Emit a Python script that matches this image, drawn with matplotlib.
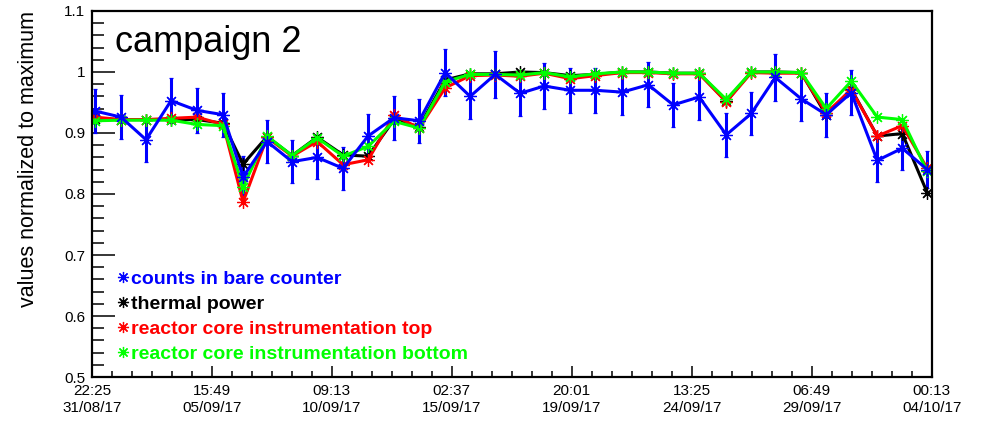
import numpy as np
import pandas as pd
import matplotlib
matplotlib.use("Agg")
import matplotlib.pyplot as plt
import matplotlib.dates as mdates
from matplotlib.lines import Line2D
from matplotlib.ticker import FixedLocator, MultipleLocator, FuncFormatter

plt.rcParams['font.family'] = ['Liberation Sans', 'DejaVu Sans']

# measurement times (one per day, campaign 2)
times = pd.to_datetime([
    "2017-09-01 01:15", "2017-09-02 01:50", "2017-09-03 01:30", "2017-09-04 01:10",
    "2017-09-05 01:45", "2017-09-06 02:20", "2017-09-06 21:15", "2017-09-07 19:55",
    "2017-09-08 19:35", "2017-09-09 19:15", "2017-09-10 19:50", "2017-09-11 19:25",
    "2017-09-12 20:00", "2017-09-13 19:45", "2017-09-14 20:20", "2017-09-15 19:55",
    "2017-09-16 19:35", "2017-09-17 19:15", "2017-09-18 17:55", "2017-09-19 18:30",
    "2017-09-20 18:05", "2017-09-21 19:45", "2017-09-22 20:20", "2017-09-23 19:55",
    "2017-09-24 20:25", "2017-09-25 22:05", "2017-09-26 21:45", "2017-09-27 20:25",
    "2017-09-28 20:55", "2017-09-29 20:35", "2017-09-30 20:15", "2017-10-01 20:50",
    "2017-10-02 20:30", "2017-10-03 20:05",
])

counts = [0.936, 0.926, 0.889, 0.953, 0.937, 0.930, 0.828, 0.886, 0.853, 0.860,
          0.842, 0.895, 0.925, 0.920, 0.999, 0.960, 0.996, 0.965, 0.977, 0.970,
          0.970, 0.967, 0.979, 0.946, 0.959, 0.897, 0.932, 0.991, 0.956, 0.930,
          0.966, 0.855, 0.875, 0.840]
counts_err = [0.036, 0.036, 0.036, 0.037, 0.037, 0.036, 0.035, 0.036, 0.035, 0.036,
              0.035, 0.036, 0.036, 0.036, 0.038, 0.037, 0.038, 0.037, 0.037, 0.037,
              0.037, 0.037, 0.037, 0.036, 0.037, 0.036, 0.036, 0.038, 0.037, 0.036,
              0.037, 0.035, 0.035, 0.030]
thermal = [0.923, 0.922, 0.922, 0.922, 0.922, 0.916, 0.849, 0.894, 0.863, 0.893,
           0.864, 0.862, 0.922, 0.910, 0.987, 0.997, 0.997, 1.000, 0.999, 0.994,
           0.996, 1.000, 1.000, 0.998, 0.998, 0.952, 1.000, 1.000, 0.999, 0.929,
           0.972, 0.895, 0.899, 0.802]
core_top = [0.926, 0.922, 0.922, 0.924, 0.926, 0.914, 0.787, 0.893, 0.862, 0.886,
            0.848, 0.856, 0.929, 0.908, 0.974, 0.994, 0.995, 0.993, 0.998, 0.989,
            0.994, 0.999, 0.999, 0.997, 0.997, 0.951, 0.999, 0.998, 0.998, 0.933,
            0.971, 0.895, 0.912, 0.842]
core_bottom = [0.920, 0.921, 0.921, 0.921, 0.914, 0.912, 0.812, 0.895, 0.863, 0.892,
               0.862, 0.878, 0.919, 0.908, 0.984, 0.996, 0.996, 0.995, 0.999, 0.992,
               0.997, 1.000, 1.000, 0.998, 0.998, 0.955, 1.000, 1.000, 0.999, 0.940,
               0.985, 0.926, 0.922, 0.837]

labels = ["counts in bare counter", "thermal power",
          "reactor core instrumentation top", "reactor core instrumentation bottom"]
colors = ["#0000ff", "#000000", "#ff0000", "#00ff00"]

t_start = pd.Timestamp("2017-08-31 22:25")
t_end = pd.Timestamp("2017-10-04 00:13")

star = (8, 2, 0)  # ROOT-like asterisk marker
lw = 2.2
ms = 9
mew = 0.9

fig = plt.figure(figsize=(9.82, 4.22), dpi=100)
ax = fig.add_axes([0.0937, 0.1066, 0.855, 0.8674])

x = mdates.date2num(times)
ax.errorbar(x, counts, yerr=counts_err, color=colors[0], lw=lw, marker=star,
            ms=ms, mew=mew, elinewidth=lw, capsize=1.2, capthick=3)
for vals, c in zip([thermal, core_top, core_bottom], colors[1:]):
    ax.plot(x, vals, color=c, lw=lw, marker=star, ms=ms, mew=mew)

ax.set_xlim(mdates.date2num(t_start), mdates.date2num(t_end))
ax.set_ylim(0.5, 1.1)

# time axis: 7 divisions with 6 sub-divisions each
major = mdates.date2num(pd.date_range(t_start, t_end, periods=8))
minor = np.linspace(major[0], major[-1], 43)
ax.xaxis.set_major_locator(FixedLocator(major))
ax.xaxis.set_minor_locator(FixedLocator(minor))
ax.xaxis.set_major_formatter(mdates.DateFormatter("%H:%M\n%d/%m/%y"))

ax.yaxis.set_major_locator(MultipleLocator(0.1))
ax.yaxis.set_minor_locator(MultipleLocator(0.02))
ax.yaxis.set_major_formatter(FuncFormatter(lambda v, p: f"{v:g}"))

ax.tick_params(axis="x", which="major", direction="in", length=8, width=1.1,
               labelsize=11, pad=5)
ax.tick_params(axis="x", which="minor", direction="in", length=4, width=1.1)
ax.tick_params(axis="y", which="major", direction="in", length=16.5, width=1.1,
               labelsize=11, pad=5)
ax.tick_params(axis="y", which="minor", direction="in", length=8.5, width=1.1)
for lab in ax.get_xticklabels():
    lab.set_linespacing(1.3)

for s in ax.spines.values():
    s.set_linewidth(1.6)

ax.set_ylabel("values normalized to maximum", fontsize=15.5, loc="top", labelpad=18)

ax.text(0.027, 0.962, "campaign 2", transform=ax.transAxes, fontsize=26,
        ha="left", va="top")

handles = [Line2D([], [], color=c, marker=star, ls="none", ms=8, mew=mew) for c in colors]
leg = ax.legend(handles, labels, loc="lower left", bbox_to_anchor=(0.02, 0.012),
                frameon=False, handlelength=0.5, handletextpad=0.15, borderpad=0,
                labelspacing=0.38, prop={"weight": "bold", "size": 14})
for txt, c in zip(leg.get_texts(), colors):
    txt.set_color(c)

fig.savefig("out.png", dpi=100)
